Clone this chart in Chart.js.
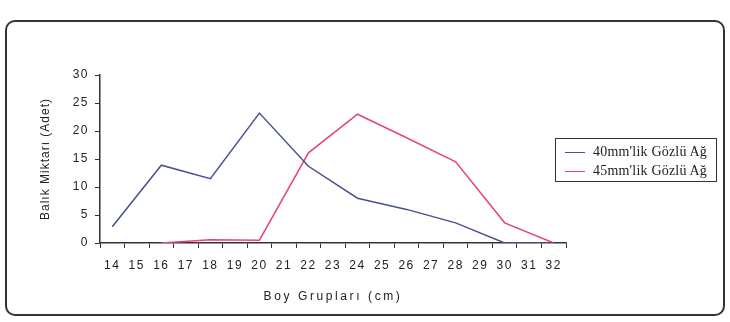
<!DOCTYPE html>
<html>
<head>
<meta charset="utf-8">
<script src="https://cdn.jsdelivr.net/npm/chart.js@4"></script>
<style>
  html, body { margin: 0; padding: 0; background: #fff; }
  #wrap { position: relative; width: 730px; height: 322px; overflow: hidden; }
  #frame {
    position: absolute; left: 5px; top: 20px; width: 716px; height: 292px;
    border: 2px solid #333; border-radius: 10px;
  }
  #box { position: absolute; left: 0; top: 0; width: 730px; height: 322px; }
  #legend {
    position: absolute; left: 555px; top: 138px; width: 162px; height: 44px;
    border: 1px solid #333; box-sizing: border-box; padding: 3px 0 0 9px;
    font: 14px "Liberation Serif", serif; color: #222; letter-spacing: 0.2px;
  }
  #legend div { height: 19px; line-height: 19px; white-space: nowrap; }
  #legend i { display: inline-block; width: 20px; height: 0; border-top: 1.5px solid; vertical-align: middle; margin-right: 8px; }
</style>
</head>
<body>
<div id="wrap">
  <div id="frame"></div>
  <div id="box"><canvas id="c"></canvas></div>
  <div id="legend"></div>
</div>
<script>
// 가로축 눈금 (cm)
const sizeLabels = ['14','15','16','17','18','19','20','21','22','23','24','25','26','27','28','29','30','31','32'];
// 측정한 크기 그룹
const sampledSizes = ['14','16','18','20','22','24','26','28','30','32'];
const net40 = [2.9, 13.9, 11.5, 23.2, 13.7, 8.0, 6.0, 3.6, 0, 0];
const net45 = [null, 0, 0.6, 0.5, 16.1, 23.0, 18.8, 14.5, 3.6, 0];
const yTicks = [0, 5, 10, 15, 20, 25, 30];

const SERIES = [
  { label: "40mm'lik Gözlü Ağ", values: net40, color: '#48528f' },
  { label: "45mm'lik Gözlü Ağ", values: net45, color: '#e4457a' },
];

const font = { family: '"Liberation Sans", Arial, sans-serif', size: 12 };

// 글자 간격 (눈금 / 축 제목)
const spacing = {
  id: 'spacing',
  beforeDraw(chart) {
    chart.ctx.letterSpacing = '1.5px';
    Object.values(chart.scales).forEach((s) => {
      if (s._wrapped) return;
      const orig = s.drawTitle.bind(s);
      s.drawTitle = (...a) => {
        const ctx = s.ctx;
        const prev = ctx.letterSpacing;
        ctx.letterSpacing = s.axis === 'x' ? '2.6px' : '1px';
        orig(...a);
        ctx.letterSpacing = prev;
      };
      s._wrapped = true;
    });
  },
};

new Chart(document.getElementById('c'), {
  type: 'line',
  data: {
    labels: sizeLabels,
    datasets: SERIES.map((s) => ({
      label: s.label,
      data: sampledSizes.map((x, i) => ({ x, y: s.values[i] })),
      borderColor: s.color,
      borderWidth: 1.5,
      pointRadius: 0,
      tension: 0,
    })),
  },
  options: {
    responsive: true, maintainAspectRatio: false, animation: false,
    layout: { padding: { left: 38, right: 164, top: 75, bottom: 10 } },
    plugins: { legend: { display: false }, tooltip: { enabled: false } },
    scales: {
      x: {
        type: 'category', offset: true,
        grid: { drawOnChartArea: false, offset: true, tickLength: 5, color: '#333' },
        border: { color: '#333', width: 1.5 },
        ticks: { color: '#222', font, padding: 10, maxRotation: 0, autoSkip: false },
        title: { display: true, text: 'Boy Grupları (cm)', color: '#222', font, padding: { top: 4, bottom: 8 } },
        afterFit: (s) => { s.height = 69; },
      },
      y: {
        min: 0, max: 30,
        afterBuildTicks: (s) => { s.ticks = yTicks.map((v) => ({ value: v })); },
        grid: { drawOnChartArea: false, tickLength: 5, color: '#333' },
        border: { color: '#333', width: 1.5 },
        ticks: { color: '#222', font, padding: 6 },
        title: { display: true, text: 'Balık Miktarı (Adet)', color: '#222', font, padding: { top: 0, bottom: 8 } },
        afterFit: (s) => { s.width = 62; },
      },
    },
  },
  plugins: [spacing],
});

// 범례
document.getElementById('legend').innerHTML = SERIES.map((s) =>
  `<div><i style="border-color:${s.color}"></i>${s.label}</div>`).join('');
</script>
</body>
</html>
